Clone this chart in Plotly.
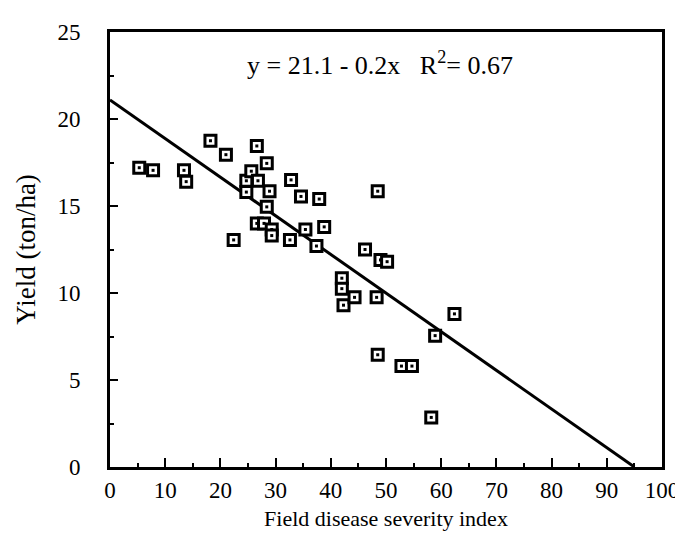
import plotly.graph_objects as go

# Data
severity = [5.3, 7.8, 13.4, 13.8, 18.2, 21.0, 22.4, 24.7, 24.7, 25.6,
            26.6, 26.8, 28.4, 28.9, 28.4, 26.6, 27.9, 29.3, 29.3, 32.8,
            32.6, 34.6, 35.4, 37.9, 37.4, 38.8, 42.0, 42.0, 42.3, 44.3,
            46.2, 48.5, 49.0, 50.2, 48.3, 48.5, 52.8, 54.7, 58.9, 62.4, 58.2]
yield_t = [17.2, 17.05, 17.05, 16.4, 18.75, 17.95, 13.05, 16.45, 15.8, 17.0,
           18.45, 16.45, 17.45, 15.85, 14.95, 14.0, 14.0, 13.65, 13.3, 16.5,
           13.05, 15.55, 13.65, 15.4, 12.7, 13.8, 10.85, 10.25, 9.3, 9.75,
           12.5, 15.85, 11.9, 11.8, 9.75, 6.45, 5.8, 5.8, 7.55, 8.8, 2.85]

# Regression line as drawn in the reference
fit_x = [0, 95]
fit_y = [21.1, 0.0]

x_ticks = [0, 10, 20, 30, 40, 50, 60, 70, 80, 90, 100]
y_ticks = [0, 5, 10, 15, 20, 25]

FONT = "Liberation Serif"

fig = go.Figure()
fig.add_trace(go.Scatter(x=fit_x, y=fit_y, mode="lines",
                         line=dict(color="black", width=3), hoverinfo="skip"))
fig.add_trace(go.Scatter(x=severity, y=yield_t, mode="markers",
                         marker=dict(symbol="square", size=11, color="white",
                                     line=dict(color="black", width=3))))
fig.add_trace(go.Scatter(x=severity, y=yield_t, mode="markers",
                         marker=dict(symbol="square", size=3, color="black",
                                     line=dict(width=0))))

axis_common = dict(showline=True, linecolor="black", linewidth=3, mirror=True,
                   ticks="inside", tickcolor="black", tickwidth=2,
                   showgrid=False, zeroline=False,
                   tickfont=dict(family=FONT, size=23, color="black"))

fig.update_xaxes(range=[0, 100], tickvals=x_ticks, ticklen=9,
                 ticklabeloverflow="allow", ticklabelstandoff=0,
                 minor=dict(dtick=5, ticks="inside", ticklen=4, tickwidth=2, tickcolor="black"),
                 title=dict(text="Field disease severity index",
                            font=dict(family=FONT, size=22, color="black"), standoff=10),
                 **axis_common)
fig.update_yaxes(range=[0, 25], tickvals=y_ticks, ticklen=8,
                 ticklabelstandoff=22,
                 minor=dict(dtick=2.5, ticks="inside", ticklen=4, tickwidth=2, tickcolor="black"),
                 title=dict(text="Yield (ton/ha)",
                            font=dict(family=FONT, size=27, color="black"), standoff=14),
                 **axis_common)

fig.add_annotation(x=0.49, y=23.2, xref="paper", yref="y",
                   text="y = 21.1 - 0.2x   R<sup>2</sup>= 0.67", showarrow=False,
                   font=dict(family=FONT, size=26, color="black"))

fig.update_layout(width=683, height=546, showlegend=False,
                  plot_bgcolor="white", paper_bgcolor="white",
                  margin=dict(l=102, r=16, t=24, b=87))

fig.write_html("out.html")
